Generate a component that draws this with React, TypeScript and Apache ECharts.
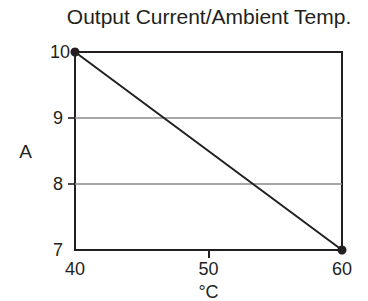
import React, { useEffect, useRef } from "react";
import * as echarts from "echarts";

const temps = [40, 60];
const currents = [10, 7];
const gridLineValues = [8, 9];
const xTickLabels = ["40", "50", "60"];
const yTickLabels = ["7", "8", "9", "10"];
const xTickValues = ["50"];
const yTickValues = ["8", "9"];
const titleText = "Output Current/Ambient Temp.";
const xName = "°C";
const yName = "A";

const DARK = "#231f20";
const FONT = "'Liberation Sans', Arial, Helvetica, sans-serif";

export default function App() {
  const ref = useRef<HTMLDivElement>(null);
  useEffect(() => {
    if (!ref.current) return;
    const chart = echarts.init(ref.current, null, { renderer: "svg" });
    chart.setOption({
      animation: false,
      backgroundColor: "#ffffff",
      title: {
        text: titleText,
        left: 204,
        top: 1,
        textAlign: "center",
        textStyle: { fontFamily: FONT, fontSize: 21, fontWeight: "normal", color: DARK },
      },
      grid: {
        left: 75,
        right: 26,
        top: 52,
        bottom: 51,
        outerBoundsMode: "none",
        containLabel: false,
        show: true,
        borderColor: DARK,
        borderWidth: 2,
        backgroundColor: "transparent",
      },
      xAxis: [
        {
          type: "value",
          min: 40,
          max: 60,
          interval: 10,
          name: xName,
          nameLocation: "middle",
          nameGap: 28,
          nameTextStyle: { fontFamily: FONT, fontSize: 18, color: DARK },
          axisLine: { show: true, lineStyle: { color: DARK, width: 2 } },
          axisTick: { show: false },
          axisLabel: { fontFamily: FONT, fontSize: 18, color: DARK, margin: 10 },
          splitLine: { show: false },
        },
        {
          type: "category",
          data: xTickLabels,
          boundaryGap: false,
          position: "bottom",
          axisLine: { show: false },
          axisLabel: { show: false },
          splitLine: { show: false },
          axisTick: {
            show: true,
            length: 8,
            interval: (i: number, v: string) => xTickValues.includes(v),
            lineStyle: { color: DARK, width: 2 },
          },
        },
      ],
      yAxis: [
        {
          type: "value",
          min: 7,
          max: 10,
          interval: 1,
          name: yName,
          nameLocation: "middle",
          nameGap: 43,
          nameRotate: 0,
          nameTextStyle: { fontFamily: FONT, fontSize: 19, color: DARK },
          axisLine: { show: true, lineStyle: { color: DARK, width: 2 } },
          axisTick: { show: false },
          axisLabel: {
            fontFamily: FONT,
            fontSize: 18,
            color: DARK,
            margin: 12,
            formatter: (v: number) => (v === 10 ? "" : String(v)),
          },
          splitLine: { show: false },
        },
        {
          type: "value",
          min: 7,
          max: 10,
          interval: 1,
          position: "left",
          axisLine: { show: false },
          axisTick: { show: false },
          axisLabel: {
            fontFamily: FONT,
            fontSize: 18,
            color: DARK,
            margin: 5,
            formatter: (v: number) => (v === 10 ? String(v) : ""),
          },
          splitLine: { show: false },
        },
        {
          type: "category",
          data: yTickLabels,
          boundaryGap: false,
          position: "left",
          axisLine: { show: false },
          axisLabel: { show: false },
          splitLine: { show: false },
          axisTick: {
            show: true,
            length: 7,
            interval: (i: number, v: string) => yTickValues.includes(v),
            lineStyle: { color: DARK, width: 1.6 },
          },
        },
      ],
      series: [
        {
          type: "line",
          xAxisIndex: 0,
          yAxisIndex: 0,
          data: temps.map((t, i) => [t, currents[i]]),
          symbol: "circle",
          symbolSize: 9,
          showAllSymbol: true,
          lineStyle: { color: DARK, width: 2 },
          itemStyle: { color: DARK },
          z: 5,
          markLine: {
            silent: true,
            symbol: "none",
            label: { show: false },
            lineStyle: { color: "#8a8a8a", width: 1.5, type: "solid" },
            data: gridLineValues.map((v) => ({ yAxis: v })),
          },
        },
      ],
    });
    return () => chart.dispose();
  }, []);
  return (
    <div
      ref={ref}
      style={{ position: "fixed", left: 0, top: 0, width: 368, height: 301 }}
    />
  );
}
